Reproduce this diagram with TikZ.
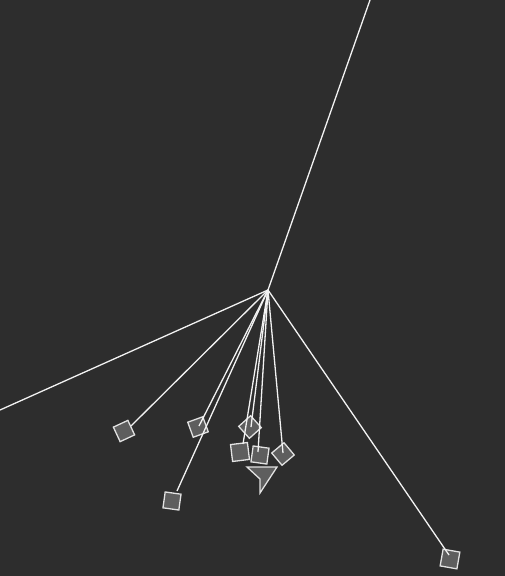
\documentclass[tikz,border=0pt]{standalone}
\begin{document}
\begin{tikzpicture}[x=1pt,y=-1pt,
  sq/.style={draw=sqedge,fill=sqfill,line width=1.3pt,minimum size=16pt,inner sep=0pt,shape=rectangle},
  rope/.style={draw=ropecol,line width=1.3pt},
  dart/.style={draw=sqedge,fill=sqfill,line width=1.3pt,line join=miter}]
\definecolor{bg}{HTML}{2D2D2D}
\definecolor{sqfill}{HTML}{5E5E5E}
\definecolor{sqedge}{HTML}{E2E2E2}
\definecolor{ropecol}{HTML}{F2F2F2}
\fill[bg] (0,0) rectangle (505,576);
\useasboundingbox (0,0) rectangle (505,576);
% bodies
\node[sq,rotate=25] (s1) at (124,431) {};
\node[sq,rotate=20] (s2) at (198,427) {};
\node[sq,rotate=-8] (s3) at (172,501) {};
\node[sq,rotate=42] (sA) at (250,427) {};
\node[sq,rotate=7,minimum size=17pt] (sB) at (240,452) {};
\node[sq,rotate=-8] (sC) at (260,455) {};
\node[sq,rotate=40] (sD) at (283,454) {};
\node[sq,rotate=-10,minimum size=17pt] (s10) at (450,559) {};
\draw[dart] (247,467) -- (277,467) -- (260,493) -- (260,479) -- cycle;
% anchors
\coordinate (hub) at (268,290);
\coordinate (top) at (370,0);
\coordinate (left) at (0,410);
\coordinate (a1) at (131,426);
\coordinate (a2) at (199,426);
\coordinate (a3) at (177,491);
\coordinate (aA) at (251,427);
\coordinate (aB) at (243,444);
\coordinate (aC) at (258,452);
\coordinate (aD) at (283,453);
\coordinate (a10) at (449,555);
% ropes
\foreach \t in {top,left,a1,a2,a3,aA,aB,aC,aD,a10}
  \draw[rope] (hub) -- (\t);
\end{tikzpicture}
\end{document}
